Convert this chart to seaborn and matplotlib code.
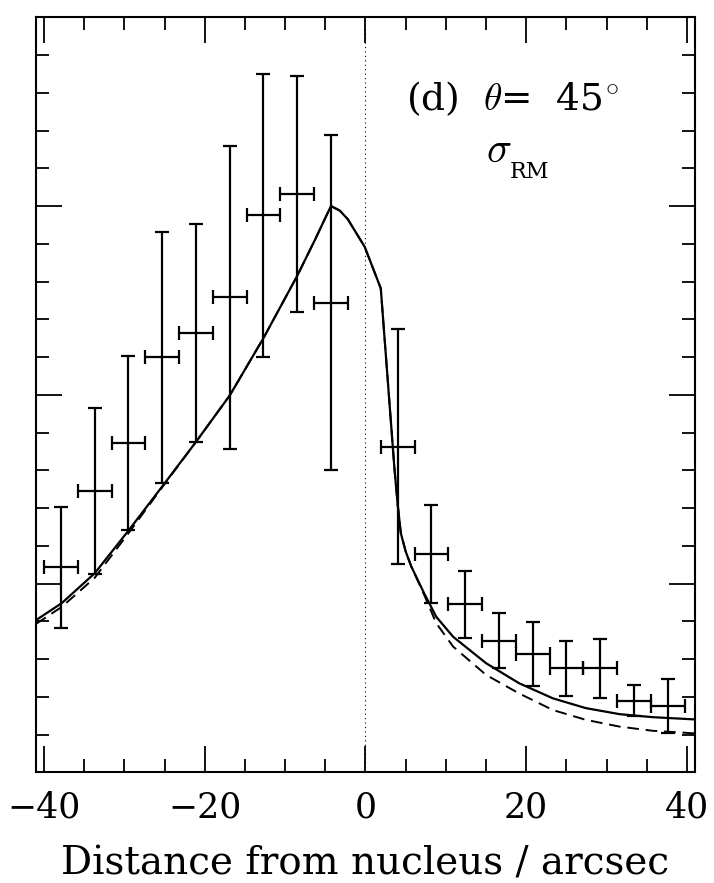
import matplotlib
matplotlib.use("Agg")
import matplotlib.pyplot as plt
import seaborn as sns
from matplotlib.ticker import MultipleLocator

# binned data (sigma_RM), arbitrary y units
x_bins = [-37.9, -33.7, -29.5, -25.3, -21.1, -16.9, -12.7, -8.5, -4.3,
          4.0, 8.2, 12.4, 16.6, 20.8, 25.0, 29.2, 33.4, 37.6]
x_halfwidth = [2.1] * 18
y_val = [5.43, 7.45, 8.72, 10.99, 11.64, 12.58, 14.76, 15.32, 12.44,
         8.63, 5.78, 4.45, 3.48, 3.13, 2.75, 2.75, 1.90, 1.76]
y_err = [1.60, 2.19, 2.31, 3.32, 2.88, 4.02, 3.75, 3.12, 4.44,
         3.12, 1.29, 0.88, 0.73, 0.85, 0.74, 0.77, 0.42, 0.71]

# model curves (solid / dashed)
curve_x = [-41.0, -37.8, -33.7, -29.5, -25.3, -21.1, -16.9, -12.7, -8.5, -6.3,
           -4.3, -3.2, -2.2, -0.1, 1.9, 2.8, 3.6, 4.0, 4.4, 5.0, 5.7,
           7.3, 8.8, 10.9, 15.0, 19.1, 23.3, 27.4, 31.6, 35.7, 41.0]
solid_y = [4.03, 4.48, 5.27, 6.40, 7.57, 8.75, 9.98, 11.50, 13.15, 14.10,
           15.00, 14.88, 14.65, 13.92, 12.82, 10.30, 8.05, 7.10, 6.33, 5.85, 5.45,
           4.74, 4.12, 3.59, 2.89, 2.36, 1.96, 1.70, 1.54, 1.46, 1.40]
dashed_y = [3.93, 4.38, 5.15, 6.33, 7.55, 8.75, 9.98, 11.50, 13.15, 14.10,
            15.00, 14.88, 14.65, 13.92, 12.82, 10.30, 8.05, 7.10, 6.33, 5.85, 5.45,
            4.70, 3.95, 3.33, 2.58, 2.09, 1.65, 1.39, 1.21, 1.10, 1.03]

sns.set_style("ticks")
plt.rcParams['font.family'] = ['DejaVu Serif']
plt.rcParams['mathtext.fontset'] = 'cm'
plt.rcParams['text.color'] = 'black'
plt.rcParams['axes.labelcolor'] = 'black'

fig = plt.figure(figsize=(7.14, 8.83), dpi=100)
ax = fig.add_axes([0.0504, 0.1254, 0.9230, 0.855])

ax.axvline(0, color='black', lw=0.8, ls=(0, (1, 3)))

sns.lineplot(x=curve_x, y=solid_y, color='black', lw=1.6, ax=ax)
sns.lineplot(x=curve_x, y=dashed_y, color='black', lw=1.4,
             linestyle=(0, (6, 3.5)), ax=ax)

ax.errorbar(x_bins, y_val, xerr=x_halfwidth, yerr=y_err, fmt='none',
            ecolor='black', elinewidth=1.6, capsize=5, capthick=1.6)

ax.set_xlim(-41, 41)
ax.set_ylim(0, 20)
ax.xaxis.set_major_locator(MultipleLocator(20))
ax.xaxis.set_minor_locator(MultipleLocator(5))
ax.yaxis.set_major_locator(MultipleLocator(5))
ax.yaxis.set_minor_locator(MultipleLocator(1))
ax.tick_params(which='both', direction='in', top=True, right=True,
               labelleft=False, width=1.3, color='black', labelcolor='black')
ax.tick_params(which='major', length=19, labelsize=25, pad=13)
ax.tick_params(which='minor', length=9.5)
for s in ax.spines.values():
    s.set_linewidth(1.5)
    s.set_color('black')

ax.set_xlabel("Distance from nucleus / arcsec", fontsize=28, labelpad=15)

ax.text(5.0, 17.54, r"(d)  $\theta$=  45$^{\circ}$", fontsize=27, ha='left', va='baseline')
ax.text(14.95, 16.17, r"$\sigma$", fontsize=30, ha='left', va='baseline')
ax.text(17.9, 15.74, "RM", fontsize=16, ha='left', va='baseline')

fig.savefig("out.png", dpi=100)
